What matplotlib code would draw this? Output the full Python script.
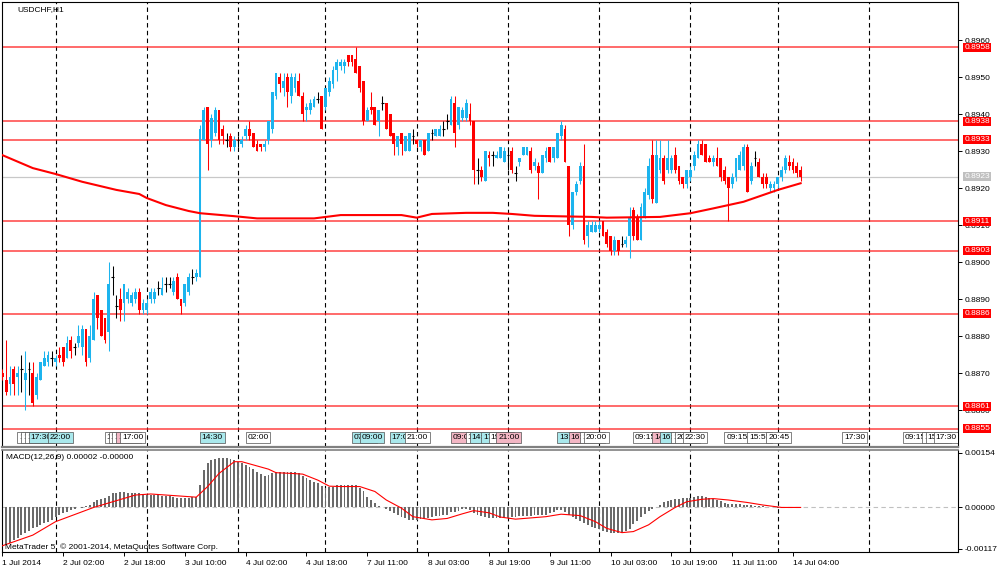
import matplotlib
matplotlib.use('Agg')
import matplotlib.pyplot as plt
from matplotlib.transforms import blended_transform_factory
import numpy as np

plt.rcParams['font.family'] = ['Liberation Sans', 'DejaVu Sans']

symbol = 'USDCHF,H1'

# hourly bars, first one is 1 Jul 10:00, last one 14 Jul 06:00 (15 Jul is future space)
days = ['1 Jul', '2 Jul', '3 Jul', '4 Jul', '7 Jul', '8 Jul', '9 Jul', '10 Jul', '11 Jul', '14 Jul', '15 Jul']
first_hour = [10, 0, 0, 0, 0, 0, 0, 0, 0, 0, 0]
bars_in_day = [14, 24, 24, 23, 24, 24, 24, 24, 23, 24, 24]

open_ = [
 .8870, .8868, .8867, .8871, .8869, .8871, .8868, .8871, .8870, .8864,
 .8868, .8872, .8873, .8874, .8873, .8875, .8877, .8874, .8879, .8877,
 .8878, .8877, .8882, .8874, .8879, .8891, .8887, .8885, .8881, .8896,
 .8888, .8890, .8889, .8890, .8889, .8890, .8892, .8887, .8887, .8890,
 .8890, .8893, .8891, .8894, .8894, .8892, .8896, .8890, .8889, .8892,
 .8896, .8896, .8896, .8933, .8942, .8933, .8935, .8941, .8936, .8933,
 .8934, .8931, .8933, .8932, .8934, .8936, .8935, .8932, .8932, .8931,
 .8933, .8936, .8945, .8950, .8947, .8950, .8945, .8947, .8949, .8945,
 .8941, .8941, .8942, .8944, .8945, .8942, .8946, .8948, .8952, .8953,
 .8953, .8956, .8956, .8955, .8953, .8949, .8938, .8942, .8942, .8938,
 .8943, .8943, .8940, .8935, .8931, .8935, .8930, .8930, .8934, .8933,
 .8931, .8933, .8930, .8935, .8934, .8934, .8936, .8938, .8937, .8943,
 .8937, .8939, .8939, .8940, .8938, .8925, .8925, .8922, .8929, .8929,
 .8928, .8928, .8927, .8929, .8930, .8924, .8927, .8929, .8929, .8930,
 .8926, .8926, .8924, .8928, .8931, .8928, .8928, .8934, .8936, .8926,
 .8910, .8919, .8922, .8926, .8907, .8908, .8908, .8909, .8911, .8908,
 .8907, .8903, .8906, .8905, .8905, .8907, .8914, .8912, .8906, .8912,
 .8918, .8929, .8916, .8925, .8928, .8925, .8925, .8929, .8926, .8923,
 .8921, .8923, .8926, .8928, .8932, .8932, .8928, .8927, .8928, .8928,
 .8925, .8923, .8921, .8923, .8925, .8926, .8931, .8922, .8928, .8927,
 .8923, .8923, .8920, .8920, .8921, .8923, .8925, .8927, .8927, .8926,
 .8925]
high = [
 .8871, .8879, .8872, .8872, .8872, .8875, .8876, .8873, .8873, .8870,
 .8873, .8876, .8876, .8876, .8875, .8877, .8877, .8880, .8880, .8878,
 .8883, .8883, .8882, .8883, .8892, .8891, .8887, .8885, .8900, .8899,
 .8891, .8893, .8894, .8893, .8892, .8893, .8893, .8890, .8890, .8893,
 .8893, .8895, .8896, .8896, .8896, .8896, .8897, .8890, .8894, .8897,
 .8898, .8898, .8937, .8942, .8942, .8940, .8942, .8941, .8937, .8935,
 .8935, .8934, .8934, .8934, .8937, .8938, .8935, .8933, .8932, .8933,
 .8938, .8946, .8951, .8951, .8951, .8951, .8951, .8951, .8951, .8946,
 .8943, .8944, .8945, .8946, .8945, .8947, .8950, .8953, .8955, .8955,
 .8955, .8956, .8956, .8958, .8953, .8949, .8942, .8946, .8942, .8941,
 .8945, .8943, .8940, .8935, .8934, .8935, .8934, .8935, .8936, .8933,
 .8933, .8933, .8935, .8936, .8936, .8937, .8938, .8940, .8945, .8945,
 .8942, .8942, .8944, .8943, .8938, .8928, .8926, .8930, .8930, .8930,
 .8930, .8931, .8931, .8931, .8931, .8926, .8928, .8931, .8931, .8931,
 .8928, .8927, .8929, .8931, .8931, .8931, .8935, .8938, .8937, .8926,
 .8919, .8922, .8927, .8932, .8911, .8911, .8911, .8911, .8911, .8909,
 .8907, .8907, .8906, .8907, .8907, .8915, .8915, .8913, .8916, .8920,
 .8928, .8933, .8933, .8933, .8929, .8933, .8929, .8931, .8926, .8923,
 .8925, .8926, .8930, .8933, .8933, .8932, .8929, .8929, .8931, .8928,
 .8926, .8923, .8924, .8928, .8930, .8932, .8932, .8927, .8930, .8928,
 .8924, .8924, .8922, .8922, .8923, .8926, .8929, .8929, .8928, .8927,
 .8926]
low = [
 .8868, .8864, .8864, .8864, .8864, .8865, .8860, .8864, .8861, .8863,
 .8868, .8872, .8872, .8872, .8872, .8873, .8872, .8874, .8874, .8875,
 .8877, .8875, .8872, .8873, .8879, .8882, .8880, .8878, .8876, .8891,
 .8885, .8884, .8884, .8889, .8888, .8889, .8886, .8886, .8886, .8889,
 .8889, .8891, .8891, .8892, .8893, .8891, .8890, .8886, .8888, .8891,
 .8894, .8895, .8896, .8933, .8925, .8931, .8934, .8932, .8932, .8931,
 .8930, .8930, .8931, .8931, .8933, .8933, .8931, .8930, .8930, .8930,
 .8932, .8935, .8944, .8946, .8945, .8942, .8943, .8946, .8945, .8938,
 .8938, .8940, .8942, .8943, .8936, .8941, .8945, .8947, .8949, .8952,
 .8951, .8953, .8953, .8951, .8946, .8937, .8938, .8940, .8937, .8934,
 .8941, .8936, .8934, .8929, .8929, .8929, .8930, .8930, .8932, .8931,
 .8930, .8929, .8930, .8933, .8934, .8934, .8934, .8936, .8937, .8931,
 .8936, .8938, .8938, .8937, .8921, .8921, .8922, .8922, .8926, .8926,
 .8928, .8928, .8927, .8925, .8924, .8922, .8926, .8929, .8929, .8924,
 .8925, .8917, .8924, .8927, .8927, .8927, .8928, .8933, .8927, .8907,
 .8909, .8918, .8921, .8905, .8904, .8908, .8908, .8908, .8907, .8904,
 .8902, .8902, .8902, .8904, .8904, .8901, .8906, .8906, .8906, .8912,
 .8917, .8916, .8916, .8924, .8921, .8924, .8924, .8924, .8921, .8920,
 .8920, .8922, .8925, .8928, .8929, .8927, .8927, .8926, .8926, .8922,
 .8921, .8911, .8920, .8922, .8925, .8925, .8919, .8921, .8926, .8923,
 .8920, .8920, .8919, .8919, .8920, .8922, .8924, .8925, .8924, .8923,
 .8922]
close = [
 .8869, .8865, .8869, .8867, .8870, .8871, .8870, .8871, .8862, .8869,
 .8873, .8874, .8875, .8874, .8874, .8874, .8873, .8878, .8876, .8877,
 .8880, .8882, .8873, .8880, .8890, .8885, .8880, .8879, .8894, .8896,
 .8888, .8887, .8894, .8892, .8891, .8892, .8887, .8889, .8889, .8892,
 .8892, .8893, .8893, .8894, .8894, .8895, .8890, .8888, .8894, .8896,
 .8896, .8897, .8936, .8941, .8932, .8939, .8941, .8933, .8934, .8933,
 .8931, .8933, .8933, .8933, .8936, .8934, .8931, .8930, .8931, .8932,
 .8938, .8946, .8951, .8948, .8949, .8946, .8950, .8950, .8945, .8940,
 .8942, .8943, .8944, .8944, .8936, .8947, .8949, .8952, .8954, .8954,
 .8954, .8954, .8954, .8951, .8947, .8938, .8941, .8941, .8937, .8941,
 .8943, .8936, .8934, .8932, .8934, .8932, .8934, .8935, .8934, .8932,
 .8933, .8929, .8935, .8935, .8936, .8936, .8936, .8938, .8944, .8935,
 .8942, .8941, .8943, .8938, .8925, .8925, .8923, .8930, .8928, .8929,
 .8929, .8931, .8930, .8929, .8925, .8924, .8928, .8931, .8931, .8925,
 .8927, .8924, .8929, .8930, .8927, .8931, .8935, .8937, .8927, .8910,
 .8919, .8921, .8926, .8906, .8910, .8910, .8910, .8910, .8907, .8905,
 .8903, .8906, .8903, .8905, .8906, .8912, .8907, .8906, .8915, .8919,
 .8926, .8917, .8929, .8928, .8922, .8928, .8928, .8925, .8922, .8921,
 .8925, .8925, .8929, .8932, .8929, .8927, .8927, .8928, .8926, .8923,
 .8922, .8920, .8923, .8928, .8929, .8931, .8919, .8926, .8928, .8923,
 .8921, .8921, .8921, .8921, .8923, .8925, .8928, .8926, .8925, .8924,
 .8923]

# moving average drawn on the price chart (bar index, value)
ma_bars = [0, 8, 14, 21, 30, 36, 38, 43, 49, 52, 61, 67, 82, 89, 105, 109, 113, 122, 129,
           134, 140, 155, 159, 173, 181, 187, 195, 204, 210]
ma_vals = [0.89289, 0.89254, 0.89238, 0.89217, 0.89195, 0.89184, 0.89173, 0.89154, 0.89138,
           0.89132, 0.89124, 0.89118, 0.89118, 0.89127, 0.89127, 0.89120, 0.89130, 0.89133,
           0.89133, 0.89130, 0.89125, 0.89122, 0.89120, 0.89122, 0.89132, 0.89145, 0.89163,
           0.89195, 0.89213]

# MACD(12,26,9) main values, in units of 1e-5
macd_hist = [
 -108, -106, -100, -93, -85, -78, -72, -65, -59, -54,
 -50, -45, -40, -35, -28, -21, -16, -12, -6, -3,
 2, -2, 3, 7, 14, 21, 24, 28, 33, 40,
 42, 43, 43, 42, 42, 41, 40, 38, 36, 35,
 34, 34, 33, 32, 31, 30, 27, 26, 26, 28,
 29, 30, 64, 106, 125, 133, 137, 139, 140, 139,
 137, 134, 128, 124, 120, 114, 108, 100, 95, 90,
 92, 98, 100, 101, 101, 101, 101, 100, 96, 88,
 82, 77, 73, 68, 60, 55, 57, 59, 62, 63,
 64, 64, 63, 62, 55, 45, 30, 20, 12, 5,
 0, -5, -11, -16, -21, -26, -30, -34, -35, -35,
 -33, -32, -30, -27, -25, -24, -22, -20, -13, -12,
 -10, -5, -3, -7, -16, -21, -24, -27, -29, -30,
 -31, -31, -30, -29, -27, -26, -25, -24, -24, -23,
 -22, -22, -21, -20, -17, -12, -8, -8, -14, -22,
 -28, -33, -38, -45, -50, -55, -59, -62, -66, -69,
 -71, -73, -72, -70, -66, -60, -48, -38, -28, -18,
 -10, -5, 0, 6, 14, 18, 22, 24, 25, 26,
 27, 28, 29, 31, 31, 30, 28, 25, 21, 17,
 13, 11, 10, 10, 9, 8, 7, 6, 5, 4,
 3, 2, 1, 0, -1, -1, 0, 1, 1, 1,
 2]
sig_bars = [0, 8, 14, 20, 24, 29, 35, 39, 43, 47, 51, 54, 57, 61, 63, 66, 70, 72, 76, 79,
            83, 86, 89, 94, 98, 101, 105, 108, 113, 117, 121, 124, 128, 131, 135, 143, 147,
            152, 156, 159, 163, 166, 170, 173, 177, 180, 184, 187, 191, 196, 200, 205, 210]
sig_vals = [-108, -78, -40, -16, 0, 16, 35, 38, 35, 32, 29, 59, 96, 129, 129, 120, 108, 98,
            96, 94, 77, 60, 59, 59, 45, 21, -2, -26, -35, -31, -18, -9, -15, -27, -33, -26,
            -19, -23, -40, -59, -71, -68, -49, -26, 0, 16, 23, 25, 21, 14, 7, 0, 0]

levels = [0.8958, 0.8938, 0.8933, 0.8911, 0.8903, 0.8886, 0.8861, 0.8855]
bid = 0.8923

# economic calendar marks: day, time, colour
events = [
 ('1 Jul', '14:00', 'w'), ('1 Jul', '15:00', 'w'), ('1 Jul', '16:00', 'w'),
 ('1 Jul', '17:30', 'c'), ('1 Jul', '22:00', 'c'),
 ('2 Jul', '13:30', 'w'), ('2 Jul', '14:30', 'w'), ('2 Jul', '15:30', 'w'),
 ('2 Jul', '16:00', 'p'), ('2 Jul', '17:00', 'w'),
 ('3 Jul', '14:30', 'c'),
 ('4 Jul', '02:00', 'w'),
 ('7 Jul', '07:00', 'c'), ('7 Jul', '09:00', 'c'), ('7 Jul', '17:00', 'c'), ('7 Jul', '21:00', 'w'),
 ('8 Jul', '09:00', 'p'), ('8 Jul', '13:00', 'w'), ('8 Jul', '14:00', 'c'), ('8 Jul', '17:00', 'c'),
 ('8 Jul', '19:00', 'w'), ('8 Jul', '21:00', 'p'),
 ('9 Jul', '13:00', 'c'), ('9 Jul', '16:00', 'p'), ('9 Jul', '19:00', 'w'), ('9 Jul', '20:00', 'w'),
 ('10 Jul', '09:15', 'w'), ('10 Jul', '14:00', 'p'), ('10 Jul', '16:00', 'c'),
 ('10 Jul', '19:00', 'w'), ('10 Jul', '20:00', 'w'), ('10 Jul', '22:30', 'w'),
 ('11 Jul', '09:15', 'w'), ('11 Jul', '15:55', 'w'), ('11 Jul', '20:45', 'w'),
 ('14 Jul', '17:30', 'w'),
 ('15 Jul', '09:15', 'w'), ('15 Jul', '14:00', 'w'), ('15 Jul', '15:00', 'w'), ('15 Jul', '17:30', 'w'),
]

bull = '#1CB4EE'
bear = '#FF0000'
box_col = {'w': '#FFFFFF', 'c': '#A9E8EC', 'p': '#F3B6C4'}

o = np.array(open_); h = np.array(high); l = np.array(low); c = np.array(close)
h = np.maximum(h, np.maximum(o, c))
l = np.minimum(l, np.minimum(o, c))
n = len(c)
x = np.arange(n)

starts = np.concatenate([[0], np.cumsum(bars_in_day)[:-1]])
midnight = starts - np.array(first_hour)
day_pos = dict(zip(days, midnight))

fig = plt.figure(figsize=(10, 5.74), dpi=100)
ax = fig.add_axes([0.002, 0.22125, 0.956, 0.77527])
ax2 = fig.add_axes([0.002, 0.03833, 0.956, 0.1777])

xmin, xmax = -0.1, 251.4

## price panel ##
for m in midnight[1:]:
    ax.axvline(m, color='k', lw=0.8, ls=(0, (4, 3)), zorder=1)
    ax2.axvline(m, color='k', lw=0.8, ls=(0, (4, 3)), zorder=1)

for lv in levels:
    ax.axhline(lv, color='#FF2020', lw=1.1, alpha=0.85, zorder=1.5)
ax.axhline(bid, color='#C8C8C8', lw=0.9, zorder=1.4)

up = c > o
dn = c < o
fl = c == o
cols = np.where(up, bull, np.where(dn, bear, 'k'))
ax.vlines(x, l, h, colors=cols, lw=0.75, zorder=3)
body = np.maximum(np.abs(c - o), 0.00003)
ax.bar(x[~fl], body[~fl], bottom=np.minimum(o, c)[~fl], width=0.74,
       color=cols[~fl], linewidth=0, zorder=3)
ax.hlines(o[fl], x[fl] - 0.37, x[fl] + 0.37, colors='k', lw=0.8, zorder=3)

ax.plot(ma_bars, ma_vals, color='#FF0000', lw=1.5, zorder=4)

# calendar boxes, later boxes cover earlier ones
for k, (d, t, col) in enumerate(events):
    pos = day_pos[d] + int(t[:2])
    ax.text(pos + 0.45, 0.88526, t, fontsize=6, ha='left', va='center', zorder=5 + k * 0.01,
            bbox=dict(boxstyle='square,pad=0.22', fc=box_col[col], ec='#505050', lw=0.5),
            clip_on=True)

ax.text(0.0157, 0.984, symbol, transform=ax.transAxes, fontsize=6, va='center', ha='left')

ax.set_xlim(xmin, xmax)
ax.set_ylim(0.8850, 0.89703)
ax.yaxis.tick_right()
ax.set_yticks(np.round(np.arange(0.8860, 0.89605, 0.001), 4))
ax.set_yticklabels(['%.4f' % v for v in np.arange(0.8860, 0.89605, 0.001)])
ax.tick_params(axis='y', length=3, width=0.7, pad=2, labelsize=6, direction='out')
ax.tick_params(axis='x', bottom=False, labelbottom=False)
for s in ax.spines.values():
    s.set_linewidth(0.8)
ax.spines['bottom'].set_color('#808080')
ax.spines['bottom'].set_linewidth(1.6)

trans = blended_transform_factory(ax.transAxes, ax.transData)
for lv in levels:
    ax.text(1.0066, lv, '%.4f' % lv, transform=trans, color='white', fontsize=6,
            va='center', ha='left', clip_on=False, zorder=6,
            bbox=dict(boxstyle='square,pad=0.12', fc='#FF0000', ec='none'))
ax.text(1.0066, bid, '%.4f' % bid, transform=trans, color='white', fontsize=6,
        va='center', ha='left', clip_on=False, zorder=6,
        bbox=dict(boxstyle='square,pad=0.12', fc='#C0C0C0', ec='none'))

## MACD panel ##
hist = np.array(macd_hist) * 1e-5
ax2.axhline(0, color='#C0C0C0', lw=0.8, ls=(0, (4, 3)), zorder=0.5)
ax2.bar(x, hist, width=0.5, color='#6A6A6A', linewidth=0, zorder=2)
ax2.plot(sig_bars, np.array(sig_vals) * 1e-5, color='#FF0000', lw=0.8, zorder=3)

ax2.text(0.004, 0.925, 'MACD(12,26,9) 0.00002 -0.00000', transform=ax2.transAxes,
         fontsize=6, va='center', ha='left')
ax2.text(0.003, 0.046, 'MetaTrader 5, \u00a9 2001-2014, MetaQuotes Software Corp.',
         transform=ax2.transAxes, fontsize=6, va='center', ha='left')

ax2.set_xlim(xmin, xmax)
ax2.set_ylim(-0.001256, 0.00162)
ax2.yaxis.tick_right()
ax2.set_yticks([0.00154, 0.0, -0.00117], ['0.00154', '0.00000', '-0.00117'])
ax2.tick_params(axis='y', length=3, width=0.7, pad=2, labelsize=6, direction='out')

tick_pos = list(range(0, n, 16))
tick_lab = []
for i in tick_pos:
    d = np.searchsorted(starts, i, side='right') - 1
    hr = i - midnight[d]
    tick_lab.append(days[d] + ' 2014' if i == 0 else '%s %02d:00' % (days[d], hr))
ax2.set_xticks(tick_pos, tick_lab, ha='left')
ax2.tick_params(axis='x', length=3, width=0.7, pad=2.5, labelsize=6, direction='out')
for s in ax2.spines.values():
    s.set_linewidth(0.8)
ax2.spines['top'].set_color('#808080')
ax2.spines['top'].set_linewidth(1.2)

plt.savefig('out.png', dpi=100)
